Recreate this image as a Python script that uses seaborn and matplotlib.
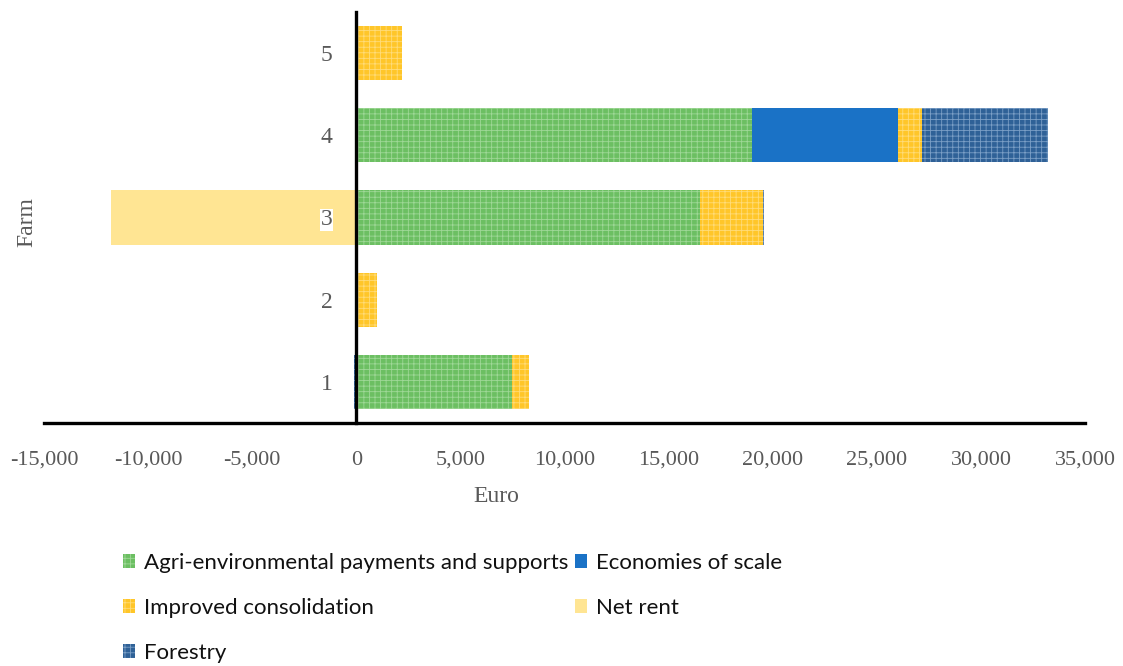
import numpy as np
import pandas as pd
import matplotlib
matplotlib.use("Agg")
import matplotlib.pyplot as plt
import seaborn as sns

farms = ["1", "2", "3", "4", "5"]
agri = [7500, 0, 16500, 19000, 0]
economies = [0, 0, 0, 7000, 0]
improved = [800, 1000, 3050, 1150, 2200]
net_rent = [0, 0, -11800, 0, 0]
forestry = [-100, 0, 50, 6050, 0]
x_ticks = [-15000, -10000, -5000, 0, 5000, 10000, 15000, 20000, 25000, 30000, 35000]

series = [
    ("Agri-environmental payments and supports", agri, "#6cbf62", "#9fd897", "+++"),
    ("Economies of scale", economies, "#1a72c6", None, None),
    ("Improved consolidation", improved, "#ffc629", "#ffdc7a", "+++"),
    ("Net rent", net_rent, "#ffe593", None, None),
    ("Forestry", forestry, "#2f6197", "#7b9fc6", "+++"),
]

sns.set_theme(style="white")
plt.rcParams["hatch.linewidth"] = 0.6

fig = plt.figure(figsize=(11.23, 6.66), dpi=100)
ax = fig.add_axes([0.0392, 0.365, 0.927, 0.617])
ax.set_axisbelow(False)

ypos = np.arange(1, 6)
pos_left = np.zeros(5)
neg_left = np.zeros(5)
handles = {}
for name, vals, color, hcol, hatch in series:
    vals = np.array(vals, dtype=float)
    left = np.where(vals >= 0, pos_left, neg_left)
    kw = dict(color=color, height=0.66, left=left, linewidth=0, label=name)
    if hatch:
        kw.update(hatch=hatch, edgecolor=hcol)
    b = ax.barh(ypos, vals, **kw)
    handles[name] = b
    pos_left = pos_left + np.where(vals >= 0, vals, 0)
    neg_left = neg_left + np.where(vals < 0, vals, 0)

ax.set_xlim(-15000, 35000)
ax.set_ylim(0.5, 5.5)
ax.set_xticks(x_ticks)
ax.set_xticklabels([f"{v:,}" for v in x_ticks])
ax.set_yticks(ypos)
ax.set_yticklabels(farms)

for s in ["top", "right"]:
    ax.spines[s].set_visible(False)
ax.spines["left"].set_position(("data", 0))
ax.spines["left"].set_color("black")
ax.spines["left"].set_linewidth(2.4)
ax.spines["bottom"].set_color("black")
ax.spines["bottom"].set_linewidth(2.4)
ax.spines["left"].set_zorder(5)

serif = ["Liberation Serif", "DejaVu Serif"]
ax.tick_params(axis="x", length=0, pad=20, labelsize=16, labelcolor="#595959")
ax.tick_params(axis="y", length=0, pad=17, labelsize=17, labelcolor="#595959")
for lab in ax.get_xticklabels() + ax.get_yticklabels():
    lab.set_family(serif)
for lab in ax.get_yticklabels():
    if lab.get_text() == "3":
        lab.set_bbox(dict(facecolor="white", edgecolor="none", pad=0.5))
        lab.set_zorder(10)

fig.text(496 / 1123, 1 - 497 / 666, "Euro", ha="center", va="center",
         fontsize=17, color="#595959", family=serif)
fig.text(27 / 1123, 1 - 222 / 666, "Farm", ha="center", va="center",
         rotation=90, fontsize=17, color="#595959", family=serif)

order = ["Agri-environmental payments and supports", "Improved consolidation", "Forestry",
         "Economies of scale", "Net rent"]
leg = fig.legend([handles[n] for n in order], order, ncol=2,
                 loc="upper left", bbox_to_anchor=(114 / 1123, 1 - 544 / 666),
                 frameon=False, prop={"family": ["Lato", "DejaVu Sans"], "size": 16},
                 handlelength=0.55, handleheight=0.55, handletextpad=0.4,
                 columnspacing=0.3, labelspacing=1.12, labelcolor="#111111",
                 borderaxespad=0)

fig.savefig("out.png", dpi=100)
